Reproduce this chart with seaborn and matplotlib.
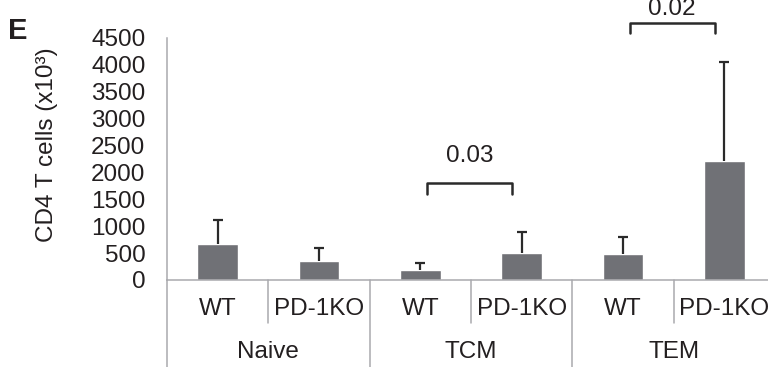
import numpy as np
import pandas as pd
import seaborn as sns
import matplotlib.pyplot as plt
import matplotlib.transforms as mtransforms

# valores
subsets = ['Naive', 'TCM', 'TEM']
genotypes = ['WT', 'PD-1KO']
means = [663, 359, 186, 507, 483, 2204]
sd_upper = [451, 241, 124, 384, 321, 1850]
y_ticks = [0, 500, 1000, 1500, 2000, 2500, 3000, 3500, 4000, 4500]

# p-valores y brackets
p_labels = ['0.03', '0.02']
p_pairs = [(2, 3), (4, 5)]
p_heights = [1800, 4780]
p_text_y = [2200, 4920]

bar_color = '#707176'
grid_gray = '#a9a9ae'
text_color = '#231f20'
fs = 17.5

sns.set_style('white')
plt.rcParams['font.family'] = ['Liberation Sans', 'DejaVu Sans']

df = pd.DataFrame({
    'subset': np.repeat(subsets, len(genotypes)),
    'genotype': genotypes * len(subsets),
    'value': means,
})
df['slot'] = df['subset'] + ' ' + df['genotype']

fig = plt.figure(figsize=(7.68, 3.67), dpi=100)
ax = fig.add_axes([167 / 768, 87 / 367, 608 / 768, 242.3 / 367])

sns.barplot(data=df, x='slot', y='value', order=list(df['slot']), color=bar_color,
            width=0.4, errorbar=None, saturation=1, ax=ax)

pos = np.arange(len(means))
eb = ax.errorbar(pos, means, yerr=[np.zeros(len(means)), sd_upper], fmt='none',
                 ecolor='#2a2a2a', elinewidth=1.6, capsize=3.5, capthick=1.6)
eb[1][0].set_visible(False)

ax.set_xlim(-0.5, len(means) - 0.5)
ax.set_ylim(0, 4500)
ax.set_yticks(y_ticks)
ax.set_yticklabels([str(t) for t in y_ticks], fontsize=fs, color=text_color)
ax.tick_params(axis='y', length=4.5, width=1.1, color=grid_gray, pad=11, direction='out')
ax.tick_params(axis='x', length=0)
ax.set_xticks([])
ax.set_xlabel('')
ax.set_ylabel('')

for s in ['top', 'right']:
    ax.spines[s].set_visible(False)
for s in ['left', 'bottom']:
    ax.spines[s].set_color(grid_gray)
    ax.spines[s].set_linewidth(1.1)

trans = mtransforms.blended_transform_factory(ax.transData, ax.transAxes)

# eje jerarquico
for i in range(len(subsets) + 1):
    x = i * len(genotypes) - 0.5
    ax.plot([x, x], [0, -0.45], transform=trans, color=grid_gray, lw=1.1, clip_on=False)
for i in range(len(subsets)):
    x = i * len(genotypes) + 0.5
    ax.plot([x, x], [0, -0.177], transform=trans, color=grid_gray, lw=1.1, clip_on=False)

for i, g in enumerate(df['genotype']):
    ax.text(i, -29 / 242.3, g, transform=trans, ha='center', va='center',
            fontsize=fs, color=text_color)
for i, s in enumerate(subsets):
    ax.text(i * len(genotypes) + 0.5, -72 / 242.3, s, transform=trans, ha='center',
            va='center', fontsize=fs, color=text_color)

# brackets de significancia
for lab, (a, b), h, ty in zip(p_labels, p_pairs, p_heights, p_text_y):
    xa, xb = a + 0.065, b - 0.095
    drop = 200
    ax.plot([xa, xa, xb, xb], [h - drop, h, h, h - drop], color='#2a2a2a', lw=1.8,
            clip_on=False, solid_joinstyle='round')
    ax.text((xa + xb) / 2, ty, lab, ha='center', va='baseline', fontsize=fs,
            color=text_color, clip_on=False)

fig.text(47 / 768, 1 - 145 / 367, 'CD4 T cells (x10³)', rotation=90, ha='center',
         va='center', fontsize=fs, color=text_color)
fig.text(8 / 768, 1 - 17 / 367, 'E', ha='left', va='top', fontsize=21,
         fontweight='bold', color=text_color)

fig.savefig('out.png', dpi=100)
